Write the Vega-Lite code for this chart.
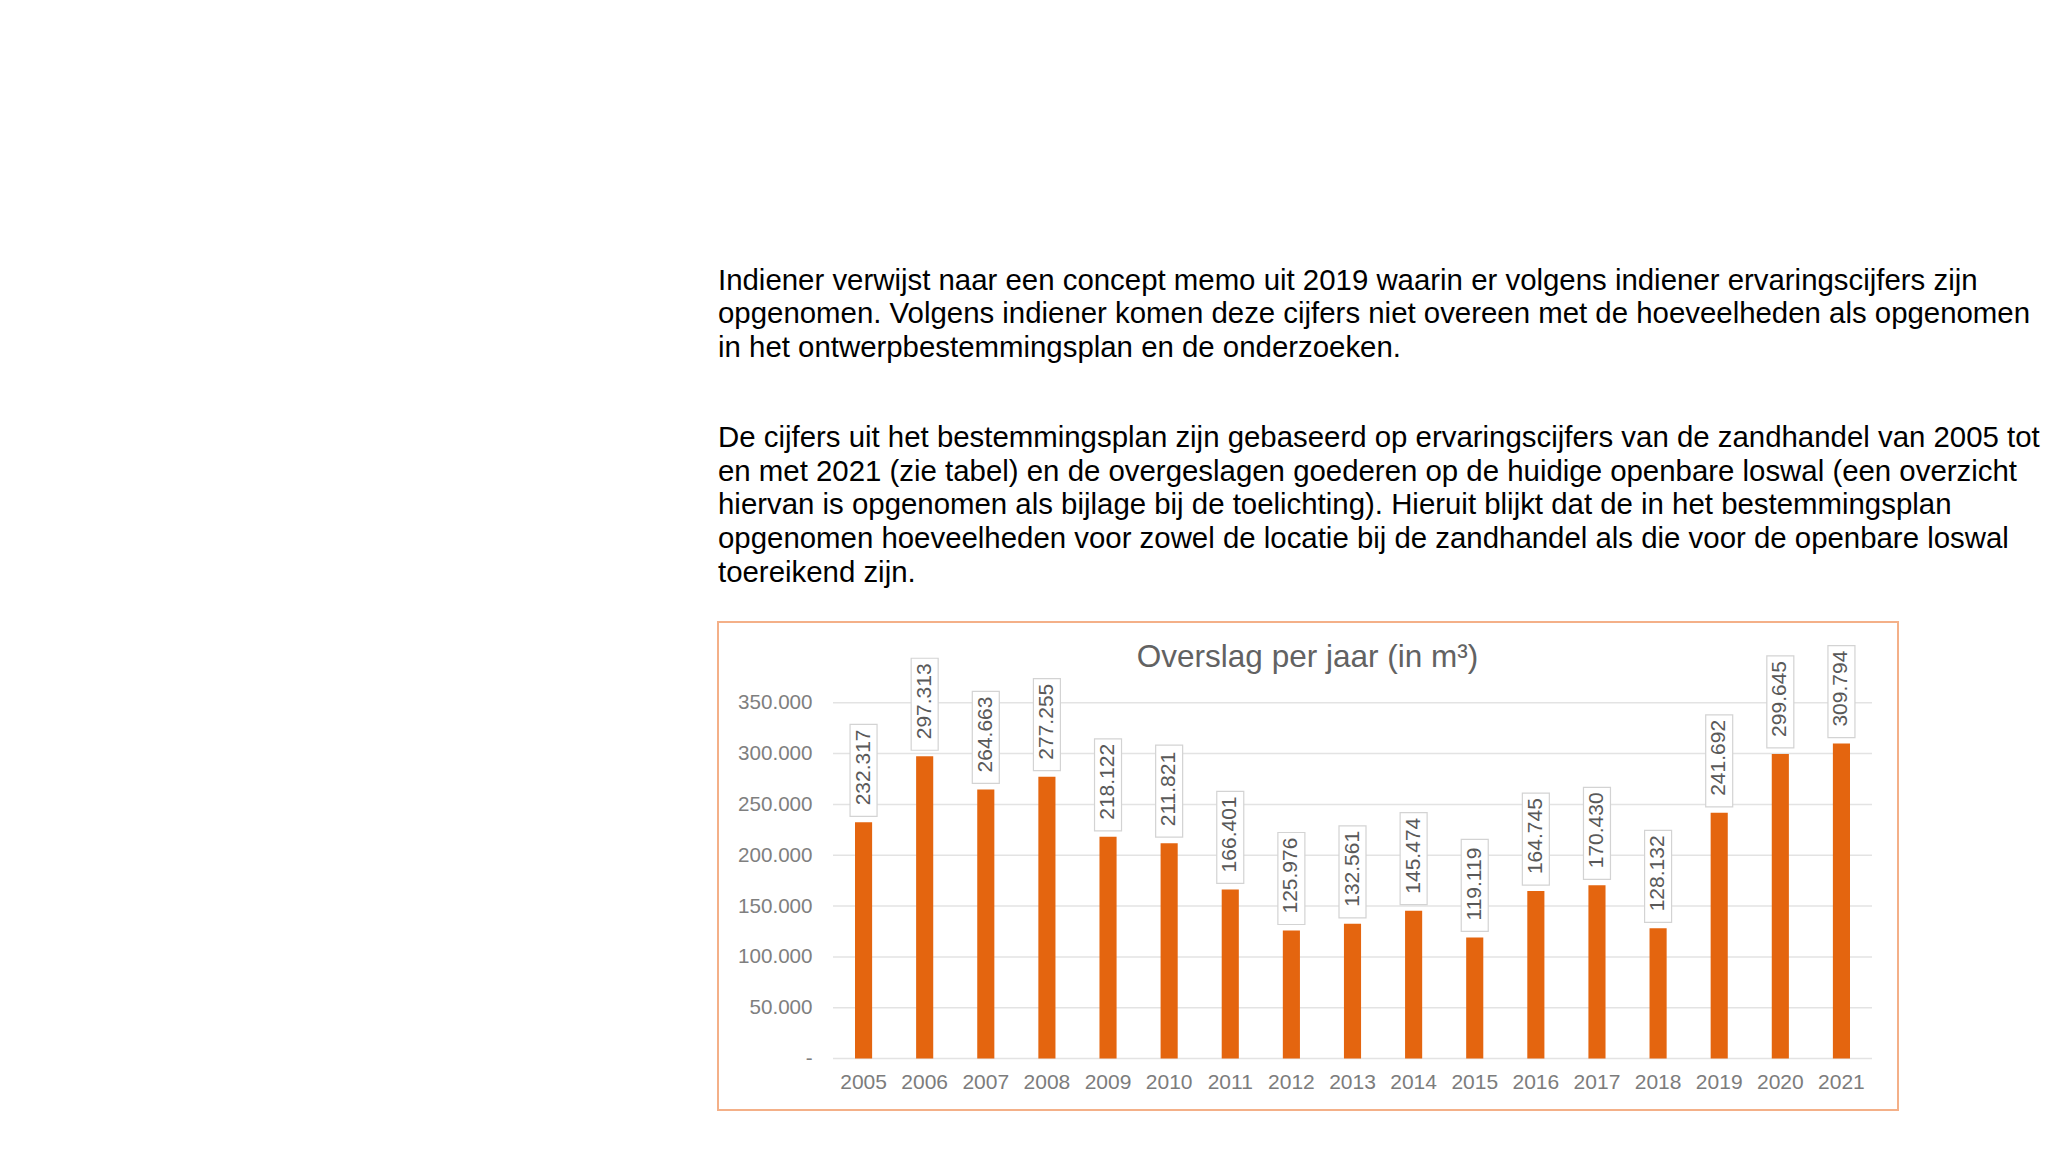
{
  "$schema": "https://vega.github.io/schema/vega-lite/v6.json",
  "width": 1180,
  "height": 488,
  "autosize": {"type": "none"},
  "padding": {"left": 718, "top": 622, "right": 169, "bottom": 40},
  "background": "white",
  "title": {
    "text": [
      "Indiener verwijst naar een concept memo uit 2019 waarin er volgens indiener ervaringscijfers zijn",
      "opgenomen. Volgens indiener komen deze cijfers niet overeen met de hoeveelheden als opgenomen",
      "in het ontwerpbestemmingsplan en de onderzoeken."
    ],
    "subtitle": [
      "De cijfers uit het bestemmingsplan zijn gebaseerd op ervaringscijfers van de zandhandel van 2005 tot",
      "en met 2021 (zie tabel) en de overgeslagen goederen op de huidige openbare loswal (een overzicht",
      "hiervan is opgenomen als bijlage bij de toelichting). Hieruit blijkt dat de in het bestemmingsplan",
      "opgenomen hoeveelheden voor zowel de locatie bij de zandhandel als die voor de openbare loswal",
      "toereikend zijn."
    ],
    "anchor": "start",
    "frame": "group",
    "font": "Liberation Sans",
    "fontSize": 29.4,
    "fontWeight": "normal",
    "color": "#000000",
    "lineHeight": 33.6,
    "subtitleFont": "Liberation Sans",
    "subtitleFontSize": 29.4,
    "subtitleColor": "#000000",
    "subtitleLineHeight": 33.6,
    "subtitlePadding": 61,
    "offset": 34
  },
  "datasets": {
    "overslag": [
      {"jaar": "2005", "m3": 232317},
      {"jaar": "2006", "m3": 297313},
      {"jaar": "2007", "m3": 264663},
      {"jaar": "2008", "m3": 277255},
      {"jaar": "2009", "m3": 218122},
      {"jaar": "2010", "m3": 211821},
      {"jaar": "2011", "m3": 166401},
      {"jaar": "2012", "m3": 125976},
      {"jaar": "2013", "m3": 132561},
      {"jaar": "2014", "m3": 145474},
      {"jaar": "2015", "m3": 119119},
      {"jaar": "2016", "m3": 164745},
      {"jaar": "2017", "m3": 170430},
      {"jaar": "2018", "m3": 128132},
      {"jaar": "2019", "m3": 241692},
      {"jaar": "2020", "m3": 299645},
      {"jaar": "2021", "m3": 309794}
    ],
    "grid": [
      {"v": 0}, {"v": 50000}, {"v": 100000}, {"v": 150000},
      {"v": 200000}, {"v": 250000}, {"v": 300000}, {"v": 350000}
    ],
    "charttitle": [
      {"t": "Overslag per jaar (in m³)"}
    ]
  },
  "resolve": {"scale": {"x": "independent"}, "axis": {"x": "independent"}},
  "layer": [
    {
      "data": {"name": "grid"},
      "mark": {"type": "rule", "color": "#e3e3e3", "strokeWidth": 1.5},
      "encoding": {
        "x": {"datum": 0, "type": "quantitative", "scale": {"domain": [0, 1], "range": [115, 1154]}, "axis": null},
        "x2": {"datum": 1},
        "y": {"field": "v", "type": "quantitative"}
      }
    },
    {
      "layer": [
        {
          "data": {"name": "overslag"},
          "mark": {"type": "bar", "color": "#e4650f"},
          "encoding": {
            "x": {
              "field": "jaar", "type": "nominal", "sort": null,
              "scale": {
                "type": "band",
                "domain": ["2005","2006","2007","2008","2009","2010","2011","2012","2013","2014","2015","2016","2017","2018","2019","2020","2021"],
                "range": [115, 1154],
                "paddingInner": 0.72, "paddingOuter": 0.36
              },
              "axis": {
                "title": null, "orient": "bottom", "offset": -51.4, "ticks": false, "domain": false,
                "labelAngle": 0, "labelAlign": "center", "labelPadding": 13, "labelFontSize": 21, "labelFont": "Liberation Sans",
                "labelColor": "#7c7c7c", "grid": false
              }
            },
            "y": {
              "field": "m3", "type": "quantitative",
              "scale": {"domain": [-50547, 429360], "nice": false, "zero": false},
              "axis": {
                "title": null, "values": [0, 50000, 100000, 150000, 200000, 250000, 300000, 350000],
                "format": ",d", "labelExpr": "datum.value === 0 ? '-\u2007\u2007' : datum.label",
                "offset": -94, "ticks": false, "domain": false, "grid": false, "labelPadding": 0,
                "labelOverlap": false, "labelBound": false,
                "labelFontSize": 20.6, "labelFont": "Liberation Sans", "labelColor": "#7f7f7f"
              }
            }
          }
        },
        {
          "data": {"name": "overslag"},
          "mark": {"type": "bar", "width": 27, "fill": "white", "stroke": "#d3d3d3", "strokeWidth": 1.2, "yOffset": -6, "y2Offset": -98},
          "encoding": {
            "x": {"field": "jaar", "type": "nominal", "sort": null},
            "y": {"field": "m3", "type": "quantitative"},
            "y2": {"field": "m3"}
          }
        },
        {
          "data": {"name": "overslag"},
          "mark": {"type": "text", "angle": 270, "align": "left", "baseline": "middle", "yOffset": -17, "fontSize": 21, "font": "Liberation Sans", "color": "#595959"},
          "encoding": {
            "x": {"field": "jaar", "type": "nominal", "sort": null},
            "y": {"field": "m3", "type": "quantitative"},
            "text": {"field": "m3", "type": "quantitative", "format": ",d"}
          }
        },
        {
          "data": {"name": "charttitle"},
          "mark": {"type": "text", "align": "center", "baseline": "alphabetic", "fontSize": 31.5, "font": "Liberation Sans", "color": "#626262", "dx": -45},
          "encoding": {
            "x": {"datum": "2013", "type": "nominal"},
            "y": {"datum": 385000, "type": "quantitative"},
            "text": {"field": "t", "type": "nominal"}
          }
        }
      ]
    }
  ],
  "config": {
    "locale": {"number": {"decimal": ",", "thousands": ".", "grouping": [3], "currency": ["€", ""]}},
    "view": {"stroke": "#f4b088", "strokeWidth": 2, "fill": "white"},
    "font": "Liberation Sans"
  }
}
